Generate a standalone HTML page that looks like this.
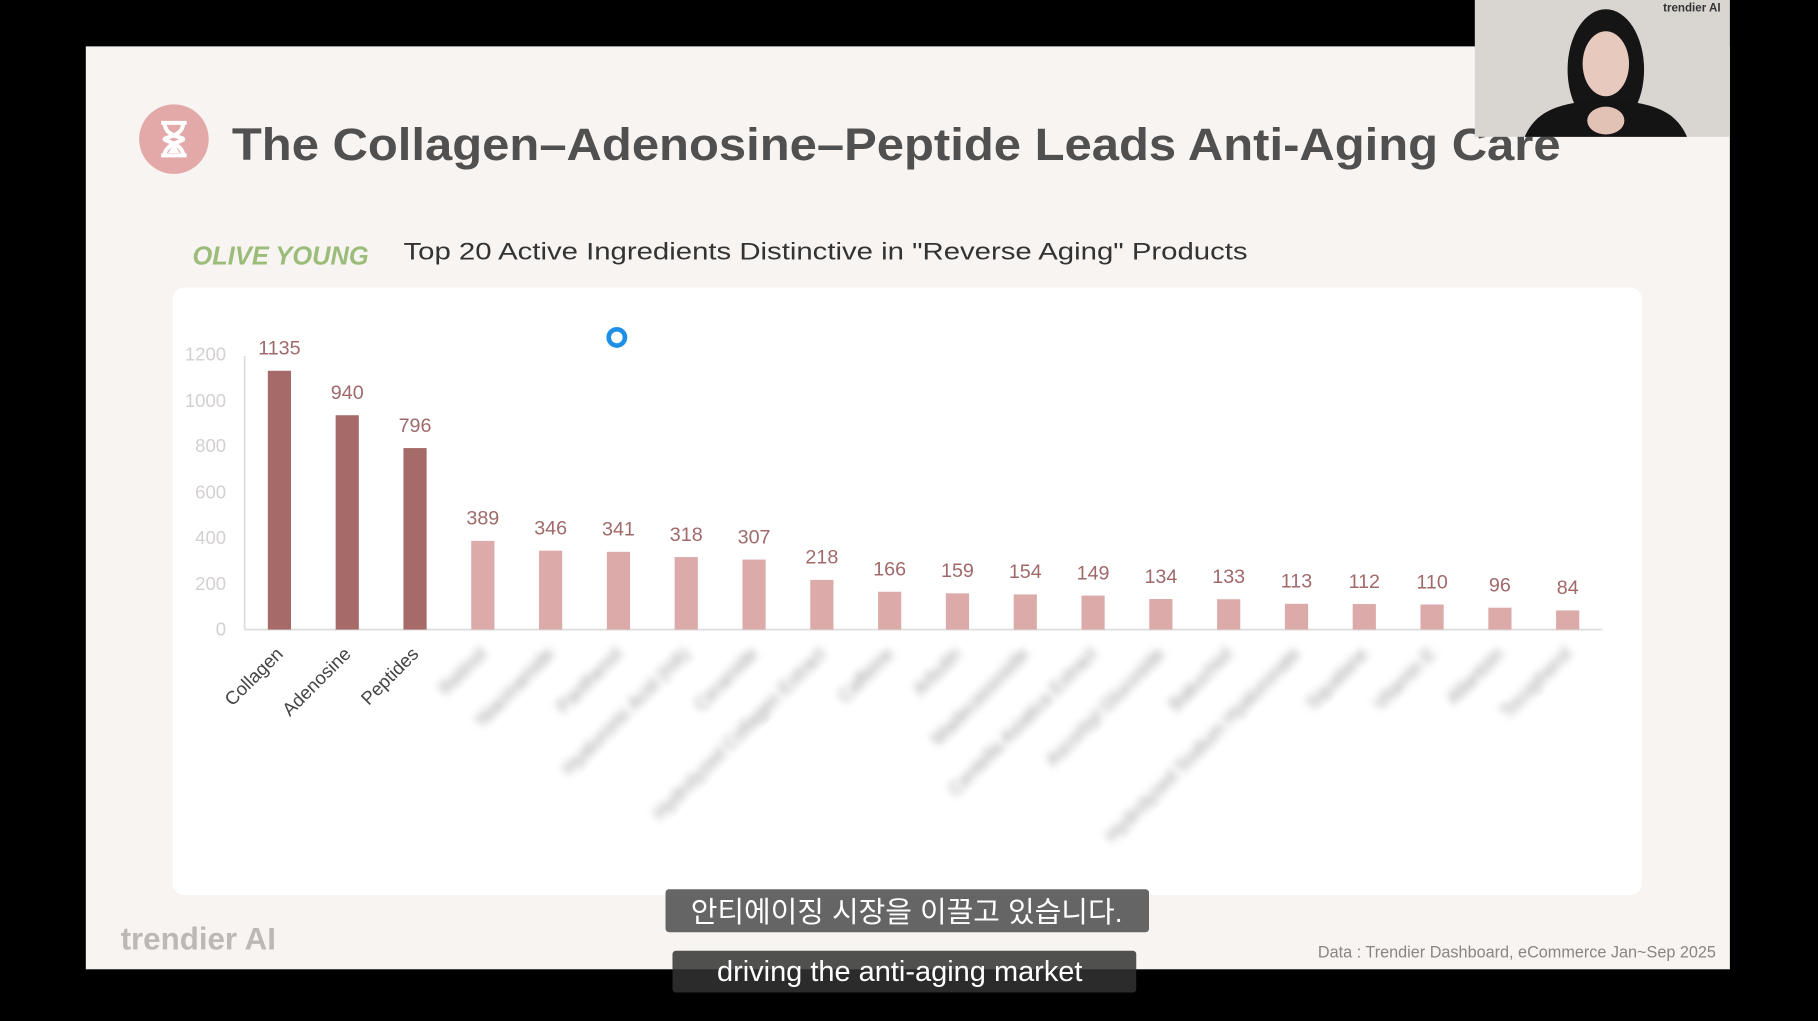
<!DOCTYPE html>
<html><head><meta charset="utf-8"><style>
html,body{margin:0;padding:0;background:#000;width:1818px;height:1016px;overflow:hidden}
#w{position:absolute;left:0;top:0;width:1568px;height:876px;transform:scale(1.15944);transform-origin:0 0;font-family:"Liberation Sans","Noto Sans CJK KR",sans-serif}
</style></head><body><div id="w">
<svg width="1568" height="876" viewBox="0 0 1568 876" xmlns="http://www.w3.org/2000/svg" font-family="Liberation Sans, Noto Sans CJK KR, sans-serif">
<defs><filter id="b"><feGaussianBlur stdDeviation="3.5"/></filter></defs>
<rect width="1568" height="876" fill="#000"/>
<rect x="74" y="40" width="1418" height="796" fill="#f7f4f2"/>
<circle cx="150" cy="120" r="30" fill="#e2a9a8"/>
<path d="M139 106h22M139 134h22M142 106 C142 118 158 118 158 120 C158 122 142 124 142 134 M158 106 C158 118 142 118 142 120 C142 122 158 124 158 134" stroke="#fff" stroke-width="3.5" fill="none"/>
<path d="M145 132 L150 124 L155 132Z" fill="#fff"/>
<text x="200" y="138" font-size="39" font-weight="bold" fill="#505050" textLength="1146" lengthAdjust="spacingAndGlyphs">The Collagen–Adenosine–Peptide Leads Anti-Aging Care</text>
<text x="166" y="228" font-size="22" font-weight="bold" font-style="italic" fill="#9cbc7a" textLength="152" lengthAdjust="spacingAndGlyphs">OLIVE YOUNG</text>
<text x="348" y="224" font-size="21" fill="#333" textLength="728" lengthAdjust="spacingAndGlyphs">Top 20 Active Ingredients Distinctive in "Reverse Aging" Products</text>
<rect x="149" y="248" width="1267" height="524" rx="10" fill="#fff"/>
<g font-size="16" fill="#d4d0cf" text-anchor="end">
<text x="195" y="548">0</text><text x="195" y="509">200</text><text x="195" y="469">400</text><text x="195" y="430">600</text><text x="195" y="390">800</text><text x="195" y="351">1000</text><text x="195" y="311">1200</text>
</g>
<line x1="211" y1="307" x2="211" y2="543" stroke="#ddd" stroke-width="1.5"/>
<line x1="211" y1="543" x2="1382" y2="543" stroke="#ddd" stroke-width="1.5"/>
<g id="bars"></g>
<circle cx="532" cy="291" r="7" fill="none" stroke="#1e8fe6" stroke-width="4"/>
<text x="104" y="819" font-size="27" font-weight="bold" fill="#bdb8b5">trendier AI</text>
<text x="1480" y="826" font-size="14" fill="#8a8583" text-anchor="end">Data : Trendier Dashboard, eCommerce Jan~Sep 2025</text>
<rect x="574" y="767" width="417" height="37" rx="3" fill="#555" opacity="0.9"/>
<text x="782" y="795" font-size="25" fill="#fff" text-anchor="middle">안티에이징 시장을 이끌고 있습니다.</text>
<rect x="580" y="820" width="400" height="36" rx="3" fill="#333" opacity="0.85"/>
<text x="776" y="846" font-size="25" fill="#fff" text-anchor="middle">driving the anti-aging market</text>
<rect x="1272" y="0" width="220" height="118" fill="#d9d6d1"/>
<ellipse cx="1385" cy="60" rx="33" ry="52" fill="#151515"/>
<ellipse cx="1385" cy="55" rx="20" ry="28" fill="#e7c9bd"/>
<path d="M1315 118 C1325 95 1345 88 1385 86 C1425 88 1445 95 1455 118Z" fill="#141414"/>
<ellipse cx="1385" cy="104" rx="16" ry="12" fill="#e3c2b6"/>
<text x="1484" y="10" font-size="10" font-weight="bold" fill="#333" text-anchor="end">trendier AI</text>
</svg>
<script>
var v=[1135,940,796,389,346,341,318,307,218,166,159,154,149,134,133,113,112,110,96,84];
var n=["Collagen","Adenosine","Peptides","Retinol","Niacinamide","Panthenol","Hyaluronic Acid (HA)","Ceramide","Hydrolyzed Collagen Extract","Caffeine","Arbutin","Madecassoside","Centella Asiatica Extract","Ascorbyl Glucoside","Bakuchiol","Hydrolyzed Sodium Hyaluronate","Squalane","Vitamin E","Allantoin","Tocopherol"];
var g=document.getElementById('bars'),s='';
for(var i=0;i<20;i++){var cx=241+i*58.48,h=v[i]*236/1200,y=543-h,c=i<3?'#a66a69':'#dcaaa9';
s+='<rect x="'+(cx-10)+'" y="'+y+'" width="20" height="'+h+'" fill="'+c+'"/>';
s+='<text x="'+cx+'" y="'+(y-14)+'" font-size="17" fill="#a06a6b" text-anchor="middle">'+v[i]+'</text>';
s+='<text transform="translate('+(cx+4)+',565) rotate(-45)" font-size="16" text-anchor="end" fill="'+(i<3?'#444':'#999')+'"'+(i<3?'':' filter="url(#b)"')+'>'+n[i]+'</text>';}
g.innerHTML=s;
</script>
</div></body></html>
